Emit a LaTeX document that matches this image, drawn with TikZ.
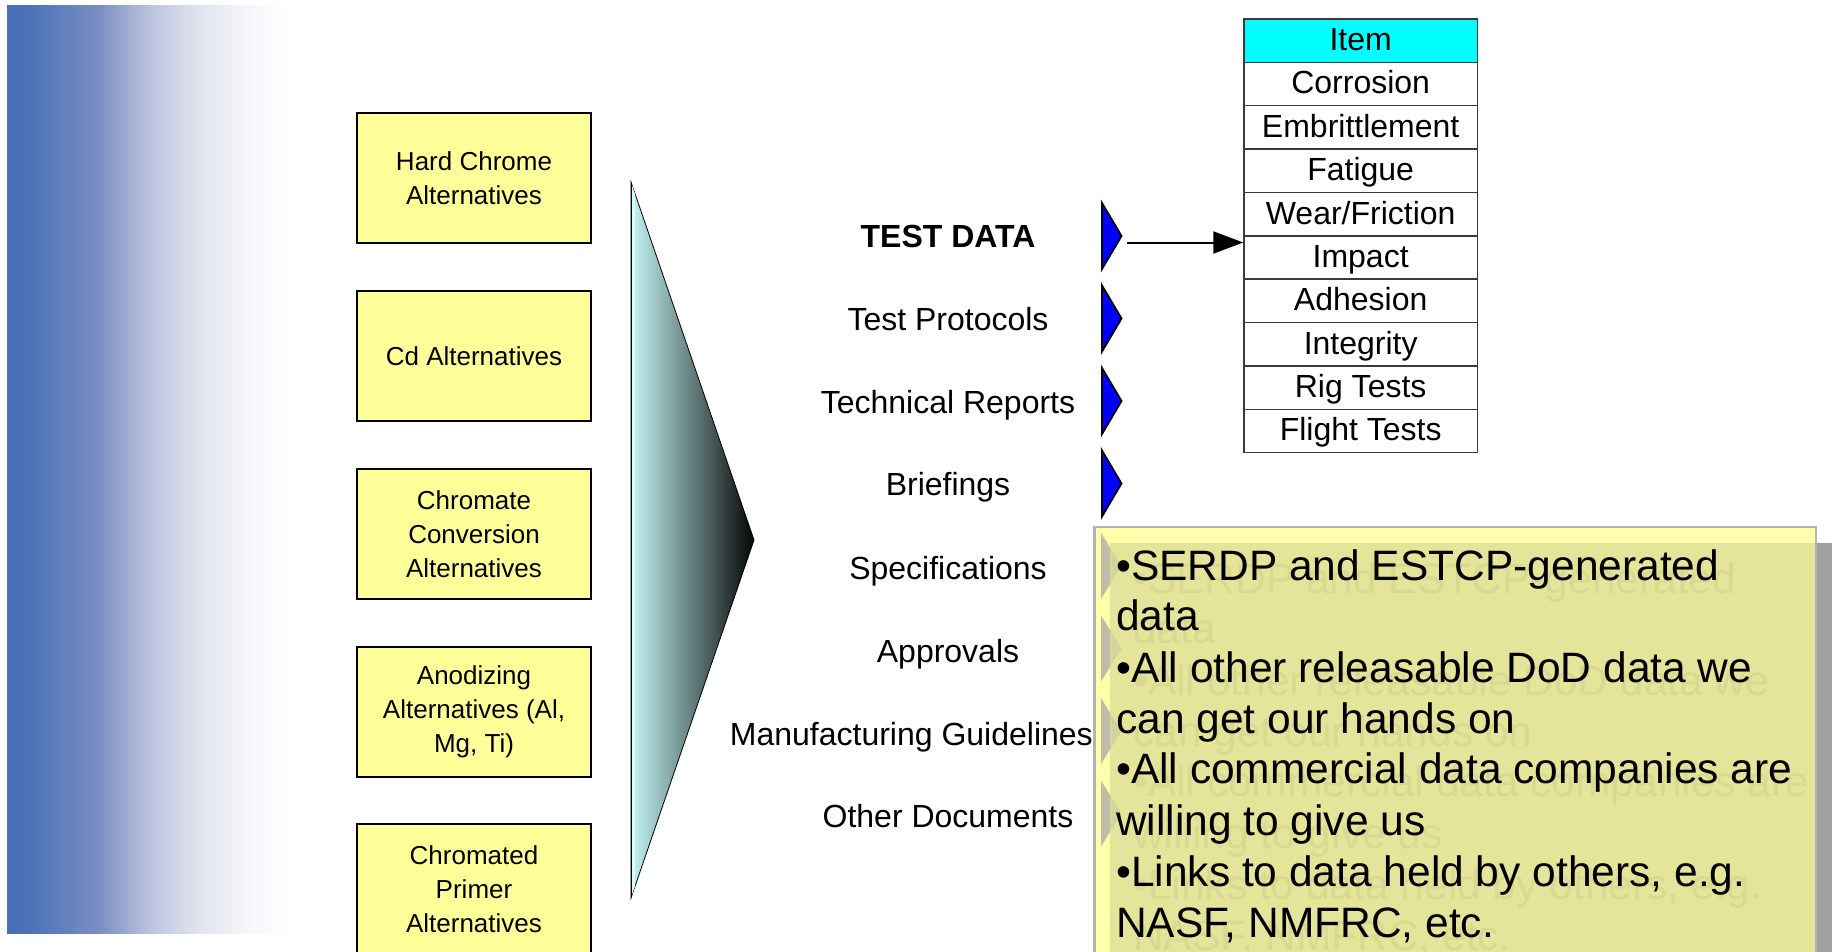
\documentclass[tikz,border=0pt]{standalone}
\usepackage{fontspec}
\setmainfont{Liberation Sans}
\usetikzlibrary{arrows.meta}
\definecolor{altyellow}{HTML}{FFFF99}
\definecolor{hdrCyan}{HTML}{00FFFF}
\definecolor{bA}{HTML}{4A70B8}
\definecolor{bB}{HTML}{7A8FC3}
\definecolor{bC}{HTML}{BCC4DF}
\definecolor{bD}{HTML}{E2E5EF}
\definecolor{bE}{HTML}{F6F7FA}
\definecolor{triL}{HTML}{C4F4F4}
\definecolor{triR}{HTML}{050505}
\definecolor{triEdge}{HTML}{D8FFFF}
\definecolor{popLight}{HTML}{FFFFAA}
\definecolor{popOlive}{HTML}{DCDC95}
\definecolor{popBorder}{HTML}{B4B4B4}
\definecolor{popShadow}{HTML}{A0A0A0}
\definecolor{ghostTri}{HTML}{BDBDAA}
\definecolor{ghostText}{HTML}{D9D992}
\definecolor{tblBorder}{HTML}{3A3A3A}
\pgfdeclarehorizontalshading{bluefade}{100bp}{color(0bp)=(bA); color(25bp)=(bA); color(28bp)=(bA); color(41.4bp)=(bB); color(50.3bp)=(bC); color(59.1bp)=(bD); color(68bp)=(bE); color(75bp)=(white); color(100bp)=(white)}
\tikzset{
  altbox/.style={draw=black, line width=2pt, fill=altyellow, minimum width=234pt, minimum height=130pt, align=center, inner sep=0pt, font=\fontsize{26}{34}\selectfont},
  lbl/.style={anchor=base, inner sep=0pt, font=\fontsize{32}{38}\selectfont},
  tcell/.style={draw=tblBorder, line width=1.5pt, minimum width=233.3pt, minimum height=43.37pt, inner sep=0pt, text height=24pt, text depth=4.2pt, font=\fontsize{32}{38}\selectfont},
  bullet/.style={anchor=base west, inner sep=0pt, font=\fontsize{42.5}{51}\selectfont},
  ghost/.style={bullet, text=ghostText},
  bluetri/.style={fill=blue, draw=black, line width=1.8pt, line join=miter},
}
\begin{document}
\begin{tikzpicture}[x=1pt,y=-1pt]
\useasboundingbox (0,0) rectangle (1835,951);
\clip (0,0) rectangle (1835,951);
\fill[white] (0,0) rectangle (1835,951);

% left blue fade
\shade[shading=bluefade] (7,5) rectangle (290,933);

% alternative boxes
\node[altbox] (hc) at (474,178) {Hard Chrome\\Alternatives};
\node[altbox] (cd) at (474,356) {Cd Alternatives};
\node[altbox] (cc) at (474,534) {Chromate\\Conversion\\Alternatives};
\node[altbox] (an) at (474,711.5) {Anodizing\\Alternatives (Al,\\Mg, Ti)};
\node[altbox] (cp) at (474,889) {Chromated\\Primer\\Alternatives};

% big shaded triangle
\shade[left color=triL, right color=triR, draw=black, line width=0.8pt] (631,182) -- (754,540) -- (631,898) -- cycle;
\fill[triEdge] (631.6,184) -- (635,194) -- (635,886) -- (631.6,896) -- cycle;
\draw[black, line width=0.8pt] (631,182) -- (631,898);

% labels
\node[lbl, font=\bfseries\fontsize{32}{38}\selectfont] (l1) at (948,247) {TEST DATA};
\node[lbl] (l2) at (948,330) {Test Protocols};
\node[lbl] (l3) at (948,413) {Technical Reports};
\node[lbl] (l4) at (948,495) {Briefings};
\node[lbl] (l5) at (948,579) {Specifications};
\node[lbl] (l6) at (948,662) {Approvals};
\node[lbl, anchor=base east] (l7) at (1093,745) {Manufacturing Guidelines};
\node[lbl] (l8) at (948,827) {Other Documents};

% blue triangles
\foreach \t in {203,285.5,368,450.5}{
  \filldraw[bluetri] (1102,\t) -- (1121.5,\t+33) -- (1102,\t+66) -- cycle;
}

% table
\foreach \i/\txt in {1/Corrosion,2/Embrittlement,3/Fatigue,4/Wear\slash Friction,5/Impact,6/Adhesion,7/Integrity,8/Rig Tests,9/Flight Tests}{
  \node[tcell] (r\i) at (1360.65,{19+43.37*(\i+0.5)}) {\txt};
}
\node[tcell, fill=hdrCyan] (r0) at (1360.65,{19+43.37*0.5}) {Item};

% arrow from TEST DATA to table
\coordinate (arrS) at (1127,242.5);
\draw[line width=2pt, -{Triangle[length=30pt,width=22pt]}] (arrS) -- (arrS -| r5.west);

% popup box
\fill[popShadow] (1817,543) rectangle (1832,960);
\filldraw[fill=popLight, draw=popBorder, line width=2.5pt] (1094.5,527) rectangle (1816,960);
\foreach \t in {533,615.5,698,780.5}{
  \fill[ghostTri] (1101,\t) -- (1121.5,\t+33) -- (1101,\t+66) -- cycle;
}
\fill[popOlive, fill opacity=0.75] (1110,543) rectangle (1814.7,960);

% ghost text
\node[ghost] (g1) at (1133,593) {•SERDP and ESTCP-generated};
\node[ghost] (g2) at (1133,643.5) {data};
\node[ghost] (g3) at (1133,695) {•All other releasable DoD data we};
\node[ghost] (g4) at (1133,746) {can get our hands on};
\node[ghost] (g5) at (1133,796.5) {•All commercial data companies are};
\node[ghost] (g6) at (1133,848) {willing to give us};
\node[ghost] (g7) at (1133,899.5) {•Links to data held by others, e.g.};
\node[ghost] (g8) at (1133,950) {NASF, NMFRC, etc.};

% bullet text
\node[bullet] (b1) at (1116,580) {•SERDP and ESTCP-generated};
\node[bullet] (b2) at (1116,630.5) {data};
\node[bullet] (b3) at (1116,682) {•All other releasable DoD data we};
\node[bullet] (b4) at (1116,733) {can get our hands on};
\node[bullet] (b5) at (1116,783.5) {•All commercial data companies are};
\node[bullet] (b6) at (1116,835) {willing to give us};
\node[bullet] (b7) at (1116,886.5) {•Links to data held by others, e.g.};
\node[bullet] (b8) at (1116,937) {NASF, NMFRC, etc.};
\end{tikzpicture}
\end{document}
